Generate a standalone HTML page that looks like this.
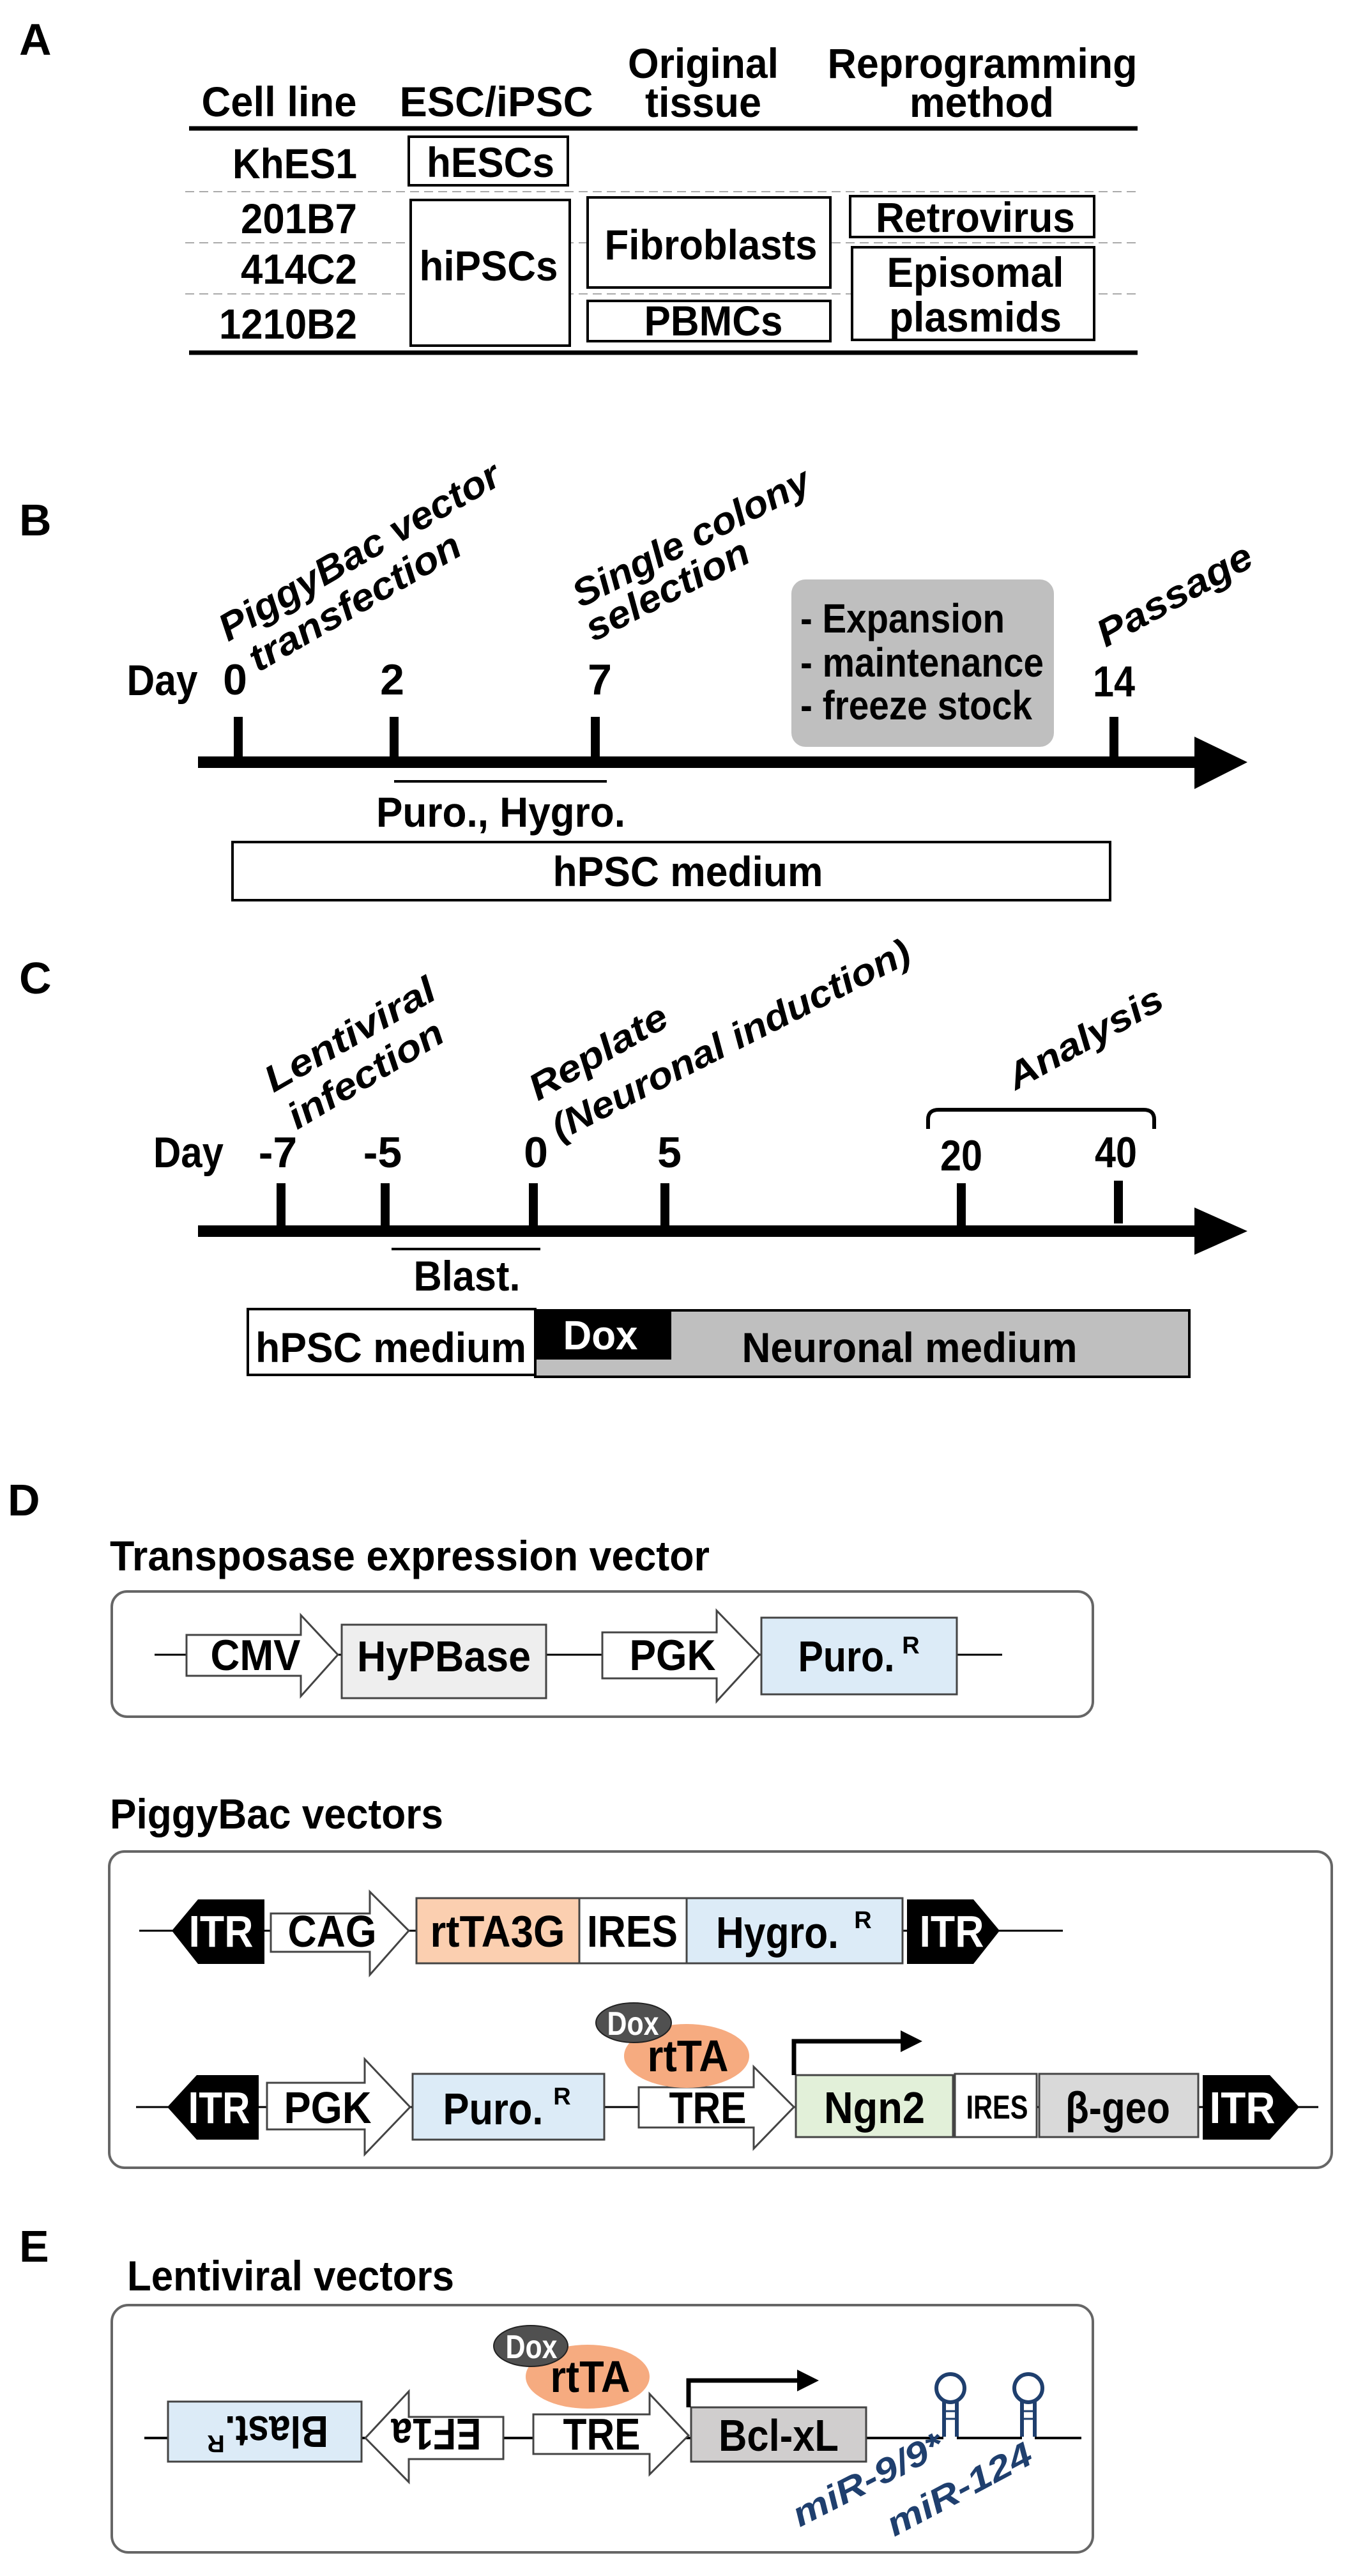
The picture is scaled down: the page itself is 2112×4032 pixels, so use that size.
<!DOCTYPE html>
<html><head><meta charset="utf-8"><style>
html,body{margin:0;padding:0;background:#fff;}
svg{display:block;}
text{font-family:"Liberation Sans Narrow","Liberation Sans",sans-serif;font-weight:bold;}
.it{font-family:"Liberation Sans",sans-serif;font-style:italic;font-weight:bold;}
</style></head><body>
<svg width="2112" height="4032" viewBox="0 0 2112 4032" xmlns="http://www.w3.org/2000/svg">
<!-- Panel labels -->
<g font-size="70">
<text x="30" y="86" font-family="Liberation Sans">A</text>
<text x="30" y="838" font-family="Liberation Sans">B</text>
<text x="30" y="1555" font-family="Liberation Sans">C</text>
<text x="12" y="2372" font-family="Liberation Sans">D</text>
<text x="30" y="3540" font-family="Liberation Sans">E</text>
</g>

<!-- ===== A ===== -->
<g font-size="66" text-anchor="middle">
<text x="437" y="182" textLength="243" lengthAdjust="spacingAndGlyphs">Cell line</text>
<text x="777" y="182" textLength="303" lengthAdjust="spacingAndGlyphs">ESC/iPSC</text>
<text x="1101" y="122" textLength="236" lengthAdjust="spacingAndGlyphs">Original</text>
<text x="1101" y="183" textLength="182" lengthAdjust="spacingAndGlyphs">tissue</text>
<text x="1538" y="122" textLength="485" lengthAdjust="spacingAndGlyphs">Reprogramming</text>
<text x="1537" y="183" textLength="226" lengthAdjust="spacingAndGlyphs">method</text>
</g>
<line x1="296" y1="201" x2="1781" y2="201" stroke="#000" stroke-width="7"/>
<line x1="296" y1="552" x2="1781" y2="552" stroke="#000" stroke-width="7"/>
<g stroke="#aaa" stroke-width="2" stroke-dasharray="14,8">
<line x1="290" y1="300" x2="1785" y2="300"/>
<line x1="290" y1="380" x2="1785" y2="380"/>
<line x1="290" y1="460" x2="1785" y2="460"/>
</g>
<g font-size="66" text-anchor="end" font-weight="normal">
<text x="559" y="279" textLength="195" lengthAdjust="spacingAndGlyphs">KhES1</text>
<text x="559" y="365" textLength="182" lengthAdjust="spacingAndGlyphs">201B7</text>
<text x="559" y="444" textLength="182" lengthAdjust="spacingAndGlyphs">414C2</text>
<text x="559" y="530" textLength="216" lengthAdjust="spacingAndGlyphs">1210B2</text>
</g>
<g fill="#fff" stroke="#000" stroke-width="4">
<rect x="640" y="214" width="249" height="76"/>
<rect x="643" y="313" width="249" height="228"/>
<rect x="920" y="309" width="380" height="141"/>
<rect x="920" y="471" width="380" height="63"/>
<rect x="1331" y="307" width="382" height="64"/>
<rect x="1334" y="387" width="379" height="145"/>
</g>
<g font-size="66" text-anchor="middle">
<text x="768" y="277" textLength="200" lengthAdjust="spacingAndGlyphs">hESCs</text>
<text x="765" y="439" textLength="217" lengthAdjust="spacingAndGlyphs">hiPSCs</text>
<text x="1113" y="406" textLength="333" lengthAdjust="spacingAndGlyphs">Fibroblasts</text>
<text x="1117" y="525" textLength="217" lengthAdjust="spacingAndGlyphs">PBMCs</text>
<text x="1527" y="363" textLength="312" lengthAdjust="spacingAndGlyphs">Retrovirus</text>
<text x="1527" y="449" textLength="277" lengthAdjust="spacingAndGlyphs">Episomal</text>
<text x="1527" y="519" textLength="270" lengthAdjust="spacingAndGlyphs">plasmids</text>
</g>

<!-- ===== B ===== -->
<g font-size="60" class="it">
<text class="it" x="357" y="1005" transform="rotate(-30 357 1005)" textLength="498" lengthAdjust="spacingAndGlyphs">PiggyBac vector</text>
<text class="it" x="404" y="1053" transform="rotate(-30 404 1053)" textLength="373" lengthAdjust="spacingAndGlyphs">transfection</text>
<text class="it" x="909" y="952" transform="rotate(-27 909 952)" textLength="409" lengthAdjust="spacingAndGlyphs">Single colony</text>
<text class="it" x="929" y="1005" transform="rotate(-27 929 1005)" textLength="280" lengthAdjust="spacingAndGlyphs">selection</text>
<text class="it" x="1731" y="1014" transform="rotate(-29 1731 1014)" textLength="269" lengthAdjust="spacingAndGlyphs">Passage</text>
</g>
<rect x="1239" y="907" width="411" height="262" rx="22" fill="#bfbfbf"/>
<g font-size="64">
<text x="1253" y="990" textLength="320" lengthAdjust="spacingAndGlyphs">- Expansion</text>
<text x="1253" y="1059" textLength="381" lengthAdjust="spacingAndGlyphs">- maintenance</text>
<text x="1253" y="1126" textLength="363" lengthAdjust="spacingAndGlyphs">- freeze stock</text>
</g>
<g font-size="68" text-anchor="middle">
<text x="254" y="1088" textLength="111" lengthAdjust="spacingAndGlyphs">Day</text>
<text x="368" y="1087">0</text>
<text x="614" y="1087">2</text>
<text x="939" y="1087">7</text>
<text x="1744" y="1090" textLength="66" lengthAdjust="spacingAndGlyphs">14</text>
</g>
<rect x="310" y="1184" width="1565" height="18" fill="#000"/>
<polygon points="1870,1153 1953,1193 1870,1235" fill="#000"/>
<g fill="#000">
<rect x="366" y="1122" width="14" height="70"/>
<rect x="610" y="1122" width="14" height="70"/>
<rect x="925" y="1122" width="14" height="70"/>
<rect x="1737" y="1122" width="14" height="70"/>
</g>
<line x1="617" y1="1223" x2="950" y2="1223" stroke="#000" stroke-width="4"/>
<text x="784" y="1294" font-size="66" text-anchor="middle" textLength="390" lengthAdjust="spacingAndGlyphs">Puro., Hygro.</text>
<rect x="364" y="1318" width="1374" height="91" fill="#fff" stroke="#000" stroke-width="4"/>
<text x="1077" y="1387" font-size="66" text-anchor="middle" textLength="423" lengthAdjust="spacingAndGlyphs">hPSC medium</text>

<!-- ===== C ===== -->
<g font-size="58">
<text class="it" x="428" y="1711" transform="rotate(-30 428 1711)" textLength="299" lengthAdjust="spacingAndGlyphs">Lentiviral</text>
<text class="it" x="465" y="1769" transform="rotate(-31 465 1769)" textLength="274" lengthAdjust="spacingAndGlyphs">infection</text>
<text class="it" x="842" y="1724" transform="rotate(-30 842 1724)" textLength="241" lengthAdjust="spacingAndGlyphs">Replate</text>
<text class="it" x="876" y="1786" transform="rotate(-27 876 1786)" textLength="622" lengthAdjust="spacingAndGlyphs">(Neuronal induction)</text>
<text class="it" x="1590" y="1707" transform="rotate(-29 1590 1707)" textLength="270" lengthAdjust="spacingAndGlyphs">Analysis</text>
</g>
<path d="M1453,1767 L1453,1752 Q1453,1737 1470,1737 L1790,1737 Q1807,1737 1807,1752 L1807,1767" fill="none" stroke="#000" stroke-width="6"/>
<g font-size="68" text-anchor="middle">
<text x="295" y="1827" textLength="110" lengthAdjust="spacingAndGlyphs">Day</text>
<text x="435" y="1827">-7</text>
<text x="599" y="1827">-5</text>
<text x="839" y="1827">0</text>
<text x="1048" y="1827">5</text>
<text x="1505" y="1832" textLength="66" lengthAdjust="spacingAndGlyphs">20</text>
<text x="1747" y="1827" textLength="66" lengthAdjust="spacingAndGlyphs">40</text>
</g>
<rect x="310" y="1918" width="1565" height="18" fill="#000"/>
<polygon points="1870,1890 1953,1927 1870,1964" fill="#000"/>
<g fill="#000">
<rect x="433" y="1852" width="14" height="70"/>
<rect x="596" y="1852" width="14" height="70"/>
<rect x="828" y="1852" width="14" height="70"/>
<rect x="1034" y="1852" width="14" height="70"/>
<rect x="1498" y="1852" width="14" height="70"/>
<rect x="1744" y="1848" width="14" height="67"/>
</g>
<line x1="613" y1="1955" x2="846" y2="1955" stroke="#000" stroke-width="4"/>
<text x="731" y="2020" font-size="66" text-anchor="middle" textLength="167" lengthAdjust="spacingAndGlyphs">Blast.</text>
<rect x="838" y="2051" width="1024" height="104" fill="#bfbfbf" stroke="#000" stroke-width="4"/>
<rect x="838" y="2051" width="213" height="77" fill="#000"/>
<rect x="388" y="2049" width="450" height="103" fill="#fff" stroke="#000" stroke-width="4"/>
<text x="612" y="2132" font-size="66" text-anchor="middle" textLength="424" lengthAdjust="spacingAndGlyphs">hPSC medium</text>
<text x="940" y="2112" font-size="64" text-anchor="middle" fill="#fff" textLength="117" lengthAdjust="spacingAndGlyphs">Dox</text>
<text x="1424" y="2132" font-size="66" text-anchor="middle" textLength="525" lengthAdjust="spacingAndGlyphs">Neuronal medium</text>

<!-- ===== D ===== -->
<text x="172" y="2458" font-size="66" textLength="939" lengthAdjust="spacingAndGlyphs">Transposase expression vector</text>
<rect x="175" y="2491" width="1536" height="196" rx="24" fill="#fff" stroke="#666" stroke-width="4"/>
<line x1="242" y1="2590" x2="1569" y2="2590" stroke="#000" stroke-width="3"/>
<g stroke="#444" stroke-width="3">
<polygon points="292,2559 471,2559 471,2528 529,2590 471,2655 471,2623 292,2623" fill="#fff"/>
<rect x="535" y="2543" width="320" height="115" fill="#eeeeee"/>
<polygon points="943,2555 1122,2555 1122,2521 1189,2590 1122,2663 1122,2627 943,2627" fill="#fff"/>
<rect x="1192" y="2532" width="306" height="120" fill="#dcebf7"/>
</g>
<g font-size="68" text-anchor="middle">
<text x="400" y="2614" textLength="141" lengthAdjust="spacingAndGlyphs">CMV</text>
<text x="695" y="2616" textLength="272" lengthAdjust="spacingAndGlyphs">HyPBase</text>
<text x="1053" y="2614" textLength="135" lengthAdjust="spacingAndGlyphs">PGK</text>
<text x="1325" y="2616" textLength="151" lengthAdjust="spacingAndGlyphs">Puro.</text>
<text x="1426" y="2588" font-size="38" font-weight="normal">R</text>
</g>

<text x="172" y="2862" font-size="66" textLength="522" lengthAdjust="spacingAndGlyphs">PiggyBac vectors</text>
<rect x="171" y="2898" width="1914" height="495" rx="24" fill="#fff" stroke="#666" stroke-width="4"/>
<!-- row 1 -->
<line x1="218" y1="3022" x2="1664" y2="3022" stroke="#000" stroke-width="3"/>
<polygon points="269,3022 310,2973 414,2973 414,3074 310,3074" fill="#000"/>
<polygon points="1565,3022 1524,2973 1420,2973 1420,3074 1524,3074" fill="#000"/>
<g stroke="#444" stroke-width="3">
<polygon points="424,2995 579,2995 579,2961 640,3022 579,3091 579,3055 424,3055" fill="#fff"/>
<rect x="652" y="2971" width="255" height="102" fill="#fbcfb0"/>
<rect x="907" y="2971" width="168" height="102" fill="#fff"/>
<rect x="1075" y="2971" width="338" height="102" fill="#dcebf7"/>
</g>
<g font-size="70" text-anchor="middle">
<text x="346" y="3047" fill="#fff" textLength="101" lengthAdjust="spacingAndGlyphs">ITR</text>
<text x="520" y="3047" textLength="139" lengthAdjust="spacingAndGlyphs">CAG</text>
<text x="779" y="3047" textLength="211" lengthAdjust="spacingAndGlyphs">rtTA3G</text>
<text x="990" y="3047" textLength="142" lengthAdjust="spacingAndGlyphs">IRES</text>
<text x="1217" y="3049" textLength="192" lengthAdjust="spacingAndGlyphs">Hygro.</text>
<text x="1351" y="3018" font-size="38" font-weight="normal">R</text>
<text x="1490" y="3047" fill="#fff" textLength="101" lengthAdjust="spacingAndGlyphs">ITR</text>
</g>
<!-- row 2 -->
<line x1="213" y1="3298" x2="2064" y2="3298" stroke="#000" stroke-width="3"/>
<polygon points="262,3298 308,3248 405,3248 405,3349 308,3349" fill="#000"/>
<polygon points="2034,3298 1988,3248 1883,3248 1883,3349 1988,3349" fill="#000"/>
<g stroke="#444" stroke-width="3">
<polygon points="418,3260 571,3260 571,3223 642,3298 571,3372 571,3333 418,3333" fill="#fff"/>
<rect x="646" y="3246" width="300" height="103" fill="#dcebf7"/>
<polygon points="1000,3267 1180,3267 1180,3235 1243,3298 1180,3363 1180,3330 1000,3330" fill="#fff"/>
<rect x="1246" y="3248" width="246" height="97" fill="#e2f0d9"/>
<rect x="1495" y="3246" width="128" height="99" fill="#fff"/>
<rect x="1627" y="3246" width="249" height="99" fill="#d9d9d9"/>
</g>
<ellipse cx="1075" cy="3218" rx="98" ry="50" fill="#f6ab80"/>
<ellipse cx="992" cy="3166" rx="59" ry="31" fill="#505050" stroke="#222" stroke-width="2"/>
<polyline points="1243,3248 1243,3195 1412,3195" fill="none" stroke="#000" stroke-width="7"/>
<polygon points="1410,3178 1444,3195 1410,3212" fill="#000"/>
<g font-size="70" text-anchor="middle">
<text x="343" y="3323" fill="#fff" textLength="97" lengthAdjust="spacingAndGlyphs">ITR</text>
<text x="513" y="3323" textLength="137" lengthAdjust="spacingAndGlyphs">PGK</text>
<text x="772" y="3325" textLength="157" lengthAdjust="spacingAndGlyphs">Puro.</text>
<text x="880" y="3294" font-size="38" font-weight="normal">R</text>
<text x="1108" y="3323" textLength="121" lengthAdjust="spacingAndGlyphs">TRE</text>
<text x="1369" y="3323" textLength="158" lengthAdjust="spacingAndGlyphs">Ngn2</text>
<text x="1561" y="3316" font-size="52" textLength="97" lengthAdjust="spacingAndGlyphs">IRES</text>
<text x="1750" y="3323" textLength="164" lengthAdjust="spacingAndGlyphs" font-family="Liberation Sans">β-geo</text>
<text x="1945" y="3323" fill="#fff" textLength="103" lengthAdjust="spacingAndGlyphs">ITR</text>
<text x="1077" y="3242" textLength="127" lengthAdjust="spacingAndGlyphs">rtTA</text>
<text x="991" y="3185" font-size="52" fill="#fff" textLength="81" lengthAdjust="spacingAndGlyphs">Dox</text>
</g>

<!-- ===== E ===== -->
<text x="199" y="3585" font-size="66" textLength="512" lengthAdjust="spacingAndGlyphs">Lentiviral vectors</text>
<rect x="175" y="3608" width="1536" height="387" rx="26" fill="#fff" stroke="#666" stroke-width="4"/>
<line x1="226" y1="3816" x2="1477" y2="3816" stroke="#000" stroke-width="4"/>
<line x1="1498" y1="3816" x2="1600" y2="3816" stroke="#000" stroke-width="4"/>
<line x1="1620" y1="3816" x2="1693" y2="3816" stroke="#000" stroke-width="4"/>
<g stroke="#444" stroke-width="3">
<rect x="263" y="3759" width="303" height="94" fill="#dcebf7"/>
<polygon points="788,3783 640,3783 640,3743 572,3816 640,3885 640,3849 788,3849" fill="#fff"/>
<polygon points="835,3779 1017,3779 1017,3747 1078,3812 1017,3873 1017,3841 835,3841" fill="#fff"/>
<rect x="1082" y="3768" width="274" height="85" fill="#d0cece"/>
</g>
<ellipse cx="920" cy="3720" rx="97" ry="50" fill="#f6ab80"/>
<ellipse cx="831" cy="3672" rx="58" ry="32" fill="#505050" stroke="#222" stroke-width="2"/>
<polyline points="1078,3768 1078,3726 1250,3726" fill="none" stroke="#000" stroke-width="7"/>
<polygon points="1248,3709 1282,3726 1248,3743" fill="#000"/>
<g stroke="#1f3f6e" stroke-width="6" fill="none">
<circle cx="1488" cy="3738" r="22"/>
<line x1="1478" y1="3758" x2="1478" y2="3814"/><line x1="1498" y1="3758" x2="1498" y2="3814"/>
<line x1="1478" y1="3774" x2="1498" y2="3774" stroke-width="3"/><line x1="1478" y1="3786" x2="1498" y2="3786" stroke-width="3"/>
<circle cx="1610" cy="3738" r="22"/>
<line x1="1600" y1="3758" x2="1600" y2="3814"/><line x1="1620" y1="3758" x2="1620" y2="3814"/>
<line x1="1600" y1="3774" x2="1620" y2="3774" stroke-width="3"/><line x1="1600" y1="3786" x2="1620" y2="3786" stroke-width="3"/>
</g>
<g font-size="70" text-anchor="middle">
<g transform="rotate(180 414 3806)">
<text x="395" y="3830" textLength="162" lengthAdjust="spacingAndGlyphs">Blast.</text>
<text x="490" y="3800" font-size="38" font-weight="normal">R</text>
</g>
<text x="683" y="3834" transform="rotate(180 683 3810)" textLength="141" lengthAdjust="spacingAndGlyphs">EF1a</text>
<text x="942" y="3834" textLength="121" lengthAdjust="spacingAndGlyphs">TRE</text>
<text x="1219" y="3836" textLength="188" lengthAdjust="spacingAndGlyphs">Bcl-xL</text>
<text x="924" y="3744" textLength="125" lengthAdjust="spacingAndGlyphs">rtTA</text>
<text x="832" y="3691" font-size="52" fill="#fff" textLength="81" lengthAdjust="spacingAndGlyphs">Dox</text>
</g>
<g font-size="54" fill="#1f3f6e">
<text class="it" x="1252" y="3956" transform="rotate(-27 1252 3956)" textLength="258" lengthAdjust="spacingAndGlyphs">miR-9/9*</text>
<text class="it" x="1400" y="3971" transform="rotate(-28 1400 3971)" textLength="250" lengthAdjust="spacingAndGlyphs">miR-124</text>
</g>
</svg>
</body></html>
